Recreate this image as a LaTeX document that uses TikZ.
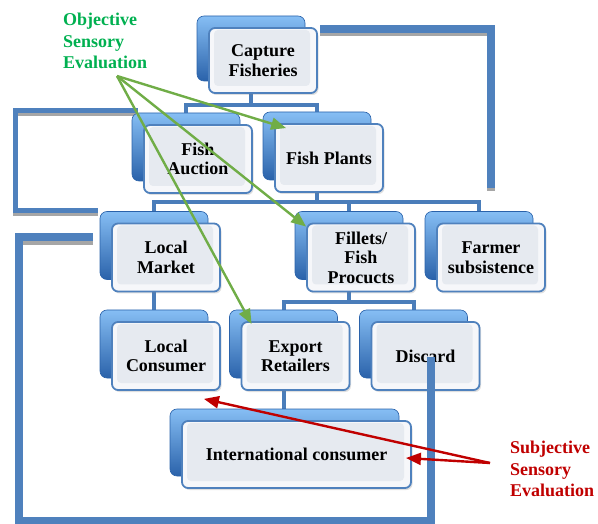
\documentclass[tikz,border=0pt]{standalone}
\usepackage{fontspec}
\setmainfont{Liberation Serif}
\usetikzlibrary{arrows.meta,calc,shadows}
\definecolor{frameblue}{HTML}{4F81BD}
\definecolor{connblue}{HTML}{4A7DBA}
\definecolor{greenarrow}{HTML}{70AD47}
\definecolor{greentext}{HTML}{00B050}
\definecolor{redc}{HTML}{C00000}
\definecolor{shadowgray}{HTML}{A6A6A6}
\definecolor{backtop}{HTML}{86BEF4}
\definecolor{backmid}{HTML}{4383CE}
\definecolor{backbot}{HTML}{2A62AA}
\definecolor{frontout}{HTML}{F6F7FA}
\definecolor{frontin}{HTML}{E6EAF0}
\pgfdeclarelayer{bg}
\pgfsetlayers{bg,main}
\tikzset{
  frontbox/.style={draw=frameblue, line width=1.8pt, rounded corners=6pt,
    fill=frontout, align=center,
    font=\fontsize{18}{19.5}\selectfont\bfseries, inner sep=2pt,
    drop shadow={opacity=0.25, shadow xshift=1.5pt, shadow yshift=-2pt},
    path picture={\fill[frontin, rounded corners=4pt]
      ($(path picture bounding box.south west)+(5pt,7pt)$) rectangle
      ($(path picture bounding box.north east)+(-7pt,-2pt)$);}},
  backbox/.style={draw=backbot, line width=0.6pt, rounded corners=7pt,
    top color=backtop, middle color=backmid, bottom color=backbot},
  conn/.style={draw=connblue, line width=4pt, line join=miter},
  frame/.style={draw=frameblue, line join=miter},
  fshadow/.style={draw=shadowgray, line join=miter},
  garrow/.style={draw=greenarrow, line width=2.4pt, -{Triangle[length=15pt,width=12pt]}},
  rarrow/.style={draw=redc, line width=2.4pt, -{Triangle[length=15pt,width=12pt]}},
  anntext/.style={anchor=north west, align=left, inner sep=0pt,
    font=\fontsize{18}{21.5}\selectfont\bfseries},
}
\newcommand\twobox[6]{%
  \node[backbox, minimum width=#4pt, minimum height=#5pt] (#1b) at (#2-12,#3-12) {};
  \node[frontbox, minimum width=#4pt, minimum height=#5pt] (#1) at (#2,#3) {#6};}
\begin{document}
\begin{tikzpicture}[x=1pt,y=-1pt]
\useasboundingbox (0,0) rectangle (598,524);

% frames behind boxes
\draw[fshadow, line width=8pt] (320,32.5) -- (491,32.5) -- (491,191.5);
\draw[frame, line width=8pt] (320,29) -- (491,29) -- (491,188);
\draw[fshadow, line width=5pt] (138,114) -- (15.5,114) -- (15.5,214) -- (98,214);
\draw[frame, line width=5pt] (138,110.5) -- (15.5,110.5) -- (15.5,210.5) -- (98,210.5);

% boxes
\twobox{cf}{263}{60.5}{108}{65}{Capture\\Fisheries}
\twobox{fa}{198}{159}{108}{68}{Fish\\Auction}
\twobox{fp}{329}{158}{108}{68}{Fish Plants}
\twobox{lm}{166}{257.5}{108}{68}{Local\\Market}
\twobox{ff}{361}{257.5}{108}{68}{Fillets/\\Fish\\Procucts}
\twobox{fs}{491}{257.5}{108}{68}{Farmer\\subsistence}
\twobox{lc}{166}{356}{108}{68}{Local\\Consumer}
\twobox{er}{295.5}{356}{108}{68}{Export\\Retailers}
\twobox{di}{425.5}{356}{108}{68}{Discard}
\twobox{ic}{296.5}{454.5}{229}{67}{International consumer}

% connectors
\begin{pgfonlayer}{bg}
\draw[conn] (cfb.south) -- ++(0,24) coordinate (bus1);
\draw[conn] (fab.north) |- (bus1) -| (fpb.north);
\draw[conn] (fpb.south) -- ++(0,22) coordinate (bus2);
\draw[conn] (lmb.north) |- (bus2) -| (fsb.north);
\draw[conn] (ffb.north) -- (ffb.north |- bus2);
\draw[conn] (ffb.south) -- ++(0,22.5) coordinate (bus3);
\draw[conn] (erb.north) |- (bus3) -| (dib.north);
\draw[conn] (lmb.south) -- (lcb.north);
\draw[conn] (erb.south) -- (erb.south |- icb.north);
\end{pgfonlayer}

% big bracket over boxes
\draw[fshadow, line width=8pt] (93,241) -- (19,241) -- (19,524.5) -- (431,524.5) -- (431,360.5);
\draw[frame, line width=8pt] (93,237.5) -- (19,237.5) -- (19,521) -- (431,521) -- (431,357);

% annotations
\node[anntext, text=greentext] (ose) at (63,13) {Objective\\Sensory\\Evaluation};
\node[anntext, text=redc] (sse) at (510,441) {Subjective\\Sensory\\Evaluation};

\coordinate (gs) at (117,76);
\coordinate (rs) at (490,463);
\draw[garrow] (gs) -- ($(fp.north west)+(12,5)$);
\draw[garrow] (gs) -- ($(ff.north west)+(0,4)$);
\draw[garrow] (gs) -- ($(er.north west)+(11,3)$);
\draw[rarrow] (rs) -- ($(ic.east)+(-6,3.5)$);
\draw[rarrow] (rs) -- ($(lc.south east)+(-17,8)$);
\end{tikzpicture}
\end{document}
